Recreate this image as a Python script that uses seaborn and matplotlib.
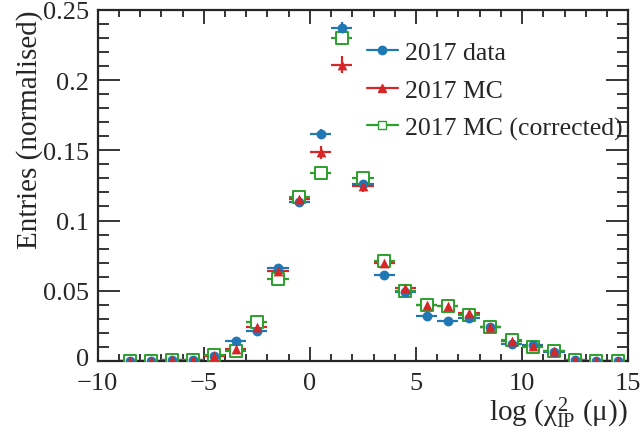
import numpy as np
import pandas as pd
import matplotlib
matplotlib.use("Agg")
import matplotlib.pyplot as plt
import matplotlib.transforms as mtransforms
import seaborn as sns
from matplotlib.ticker import MultipleLocator
from matplotlib.lines import Line2D

bin_centers = [-8.5, -7.5, -6.5, -5.5, -4.5, -3.5, -2.5, -1.5, -0.5, 0.5, 1.5, 2.5,
               3.5, 4.5, 5.5, 6.5, 7.5, 8.5, 9.5, 10.5, 11.5, 12.5, 13.5, 14.5]
data_2017 = [0.0, 0.0, 0.0003, 0.0006, 0.0036, 0.014, 0.021, 0.066, 0.113, 0.1617, 0.237, 0.126,
             0.0612, 0.049, 0.032, 0.0283, 0.0306, 0.024, 0.0121, 0.0116, 0.0062, 0.0003, 0.0, 0.0]
mc_2017 = [0.0, 0.0, 0.0003, 0.0006, 0.0033, 0.0085, 0.024, 0.064, 0.115, 0.1486, 0.211, 0.1244,
           0.070, 0.0518, 0.040, 0.0394, 0.034, 0.024, 0.0145, 0.0109, 0.0069, 0.0003, 0.0, 0.0]
mc_corr_2017 = [0.0, 0.0, 0.0003, 0.0006, 0.0045, 0.0073, 0.028, 0.058, 0.1165, 0.1337, 0.230, 0.1303,
                0.071, 0.0496, 0.040, 0.0394, 0.033, 0.024, 0.0152, 0.0102, 0.0073, 0.0003, 0.0, 0.0]
data_err = [0.0, 0.0, 0.0002, 0.0002, 0.0006, 0.0011, 0.0013, 0.0024, 0.003, 0.0038, 0.0045, 0.0032,
            0.0023, 0.002, 0.0016, 0.0015, 0.0016, 0.0014, 0.001, 0.001, 0.0007, 0.0002, 0.0, 0.0]
mc_err = [0.0, 0.0, 0.0002, 0.0003, 0.0007, 0.0011, 0.0019, 0.003, 0.004, 0.0046, 0.0058, 0.0042,
          0.0032, 0.0027, 0.0024, 0.0024, 0.0022, 0.0019, 0.0014, 0.0012, 0.001, 0.0002, 0.0, 0.0]
corr_err = [0.0, 0.0, 0.0002, 0.0003, 0.0007, 0.0009, 0.0017, 0.0025, 0.0037, 0.0045, 0.0048, 0.0042,
            0.003, 0.0025, 0.0021, 0.0021, 0.0019, 0.0016, 0.0013, 0.0011, 0.0009, 0.0002, 0.0, 0.0]
labels = ["2017 data", "2017 MC", "2017 MC (corrected)"]

sns.set_style("ticks")
plt.rcParams['font.family'] = ['Liberation Serif', 'DejaVu Serif']
plt.rcParams['mathtext.fontset'] = 'custom'
plt.rcParams['mathtext.rm'] = 'Liberation Serif'
plt.rcParams['mathtext.it'] = 'Liberation Serif'
plt.rcParams['mathtext.bf'] = 'Liberation Serif:bold'

df = pd.concat([
    pd.DataFrame({"x": bin_centers, "y": data_2017, "err": data_err, "sample": labels[0]}),
    pd.DataFrame({"x": bin_centers, "y": mc_2017, "err": mc_err, "sample": labels[1]}),
    pd.DataFrame({"x": bin_centers, "y": mc_corr_2017, "err": corr_err, "sample": labels[2]}),
])

colors = {labels[0]: "#1f77b4", labels[1]: "#d62728", labels[2]: "#2ca02c"}

fig = plt.figure(figsize=(6.43, 4.35), dpi=100)
ax = fig.add_axes([0.152, 0.168, 0.825, 0.807])

for lab in labels:
    sub = df[df["sample"] == lab]
    ax.errorbar(sub["x"], sub["y"], xerr=0.5, yerr=sub["err"], fmt="none",
                ecolor=colors[lab], elinewidth=1.6, capsize=0)

sns.scatterplot(data=df[df["sample"] == labels[2]], x="x", y="y", ax=ax, facecolor="white",
                marker="s", s=75, edgecolor=colors[labels[2]], linewidth=1.4, legend=False, zorder=3)
sns.scatterplot(data=df[df["sample"] == labels[0]], x="x", y="y", ax=ax, color=colors[labels[0]],
                marker="o", s=50, edgecolor=colors[labels[0]], linewidth=0, legend=False, zorder=4)
sns.scatterplot(data=df[df["sample"] == labels[1]], x="x", y="y", ax=ax, color=colors[labels[1]],
                marker="^", s=50, edgecolor=colors[labels[1]], linewidth=0, legend=False, zorder=5)

ax.set_xlim(-10, 15)
ax.set_ylim(0, 0.25)
ax.xaxis.set_major_locator(MultipleLocator(5))
ax.xaxis.set_minor_locator(MultipleLocator(1))
ax.yaxis.set_major_locator(MultipleLocator(0.05))
ax.yaxis.set_minor_locator(MultipleLocator(0.01))
ax.set_yticks([0, 0.05, 0.1, 0.15, 0.2, 0.25])
ax.set_yticklabels(["0", "0.05", "0.1", "0.15", "0.2", "0.25"])
ax.set_xticks([-10, -5, 0, 5, 10, 15])
ax.set_xticklabels(["\u221210", "\u22125", "0", "5", "10", "15"])
ax.tick_params(which="both", direction="in", top=True, right=True, labelsize=19, width=1.3)
ax.tick_params(axis="x", which="major", length=10, pad=8)
ax.tick_params(axis="x", which="minor", length=5)
ax.tick_params(axis="y", which="major", length=16, pad=6)
ax.tick_params(axis="y", which="minor", length=8)
for sp in ax.spines.values():
    sp.set_linewidth(1.6)

# nudge the y "0" label up slightly so it does not collide with "-10"
zero_lbl = ax.get_yticklabels()[0]
zero_lbl.set_transform(zero_lbl.get_transform() +
                       mtransforms.ScaledTranslation(0, 3 / 72, fig.dpi_scale_trans))

ax.set_xlabel(r"log ($\chi^{2}_{\mathrm{IP}}$ ($\mu$))", fontsize=21, loc="right", labelpad=0)
ax.set_ylabel("Entries (normalised)", fontsize=21, loc="top", labelpad=0)

handles = [
    Line2D([0], [0], color=colors[labels[0]], marker="o", markersize=6, lw=1.6),
    Line2D([0], [0], color=colors[labels[1]], marker="^", markersize=6, lw=1.6),
    Line2D([0], [0], color=colors[labels[2]], marker="s", markersize=6, lw=1.6,
           markerfacecolor="white"),
]
ax.legend(handles, labels, loc="upper left", bbox_to_anchor=(0.507, 0.91), frameon=False,
          fontsize=18.5, handlelength=1.2, labelspacing=0.56, handletextpad=0.28, borderaxespad=0,
          borderpad=0)

fig.savefig("out.png", dpi=100)
